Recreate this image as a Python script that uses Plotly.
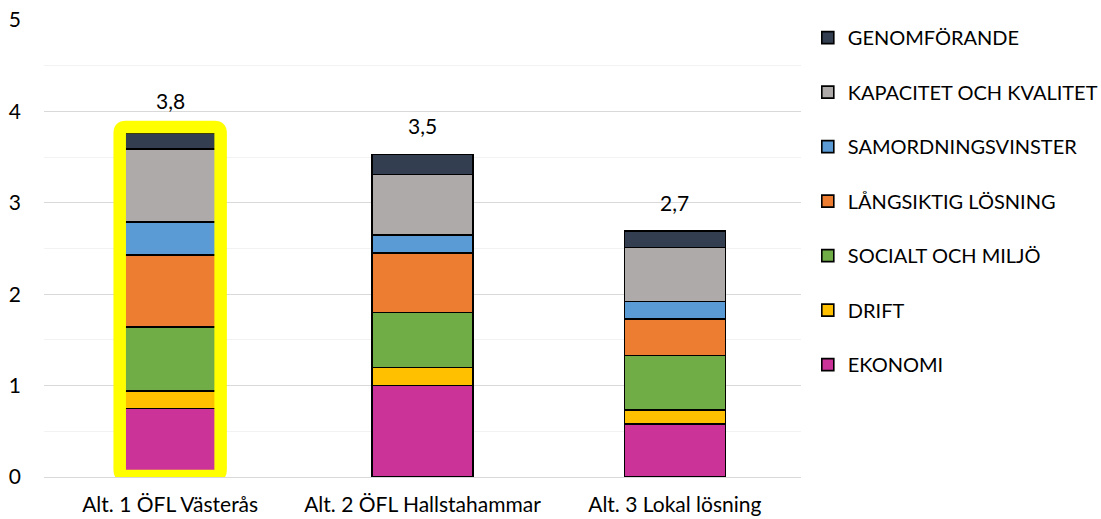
import plotly.graph_objects as go

# Alternatives compared in the evaluation
categories = ["Alt. 1 ÖFL Västerås", "Alt. 2 ÖFL Hallstahammar", "Alt. 3 Lokal lösning"]

# Weighted scores per criterion (stacked bottom to top)
ekonomi = [0.75, 1.00, 0.58]
drift = [0.19, 0.20, 0.15]
socialt_miljo = [0.70, 0.60, 0.60]
langsiktig = [0.79, 0.65, 0.40]
samordning = [0.36, 0.20, 0.19]
kapacitet = [0.80, 0.66, 0.59]
genomforande = [0.17, 0.22, 0.18]

series_names = ["EKONOMI", "DRIFT", "SOCIALT OCH MILJÖ", "LÅNGSIKTIG LÖSNING",
                "SAMORDNINGSVINSTER", "KAPACITET OCH KVALITET", "GENOMFÖRANDE"]
series_values = [ekonomi, drift, socialt_miljo, langsiktig, samordning, kapacitet, genomforande]
series_colors = ["#CC3399", "#FFC000", "#70AD47", "#ED7D31", "#5B9BD5", "#AEAAAA", "#333F50"]

FONT = "Lato"
AX_SIZE = 21
LEG_SIZE = 20
BAR_W = 0.4
xpos = list(range(len(categories)))

fig = go.Figure()
n = len(series_names)
for i, (name, vals, col) in enumerate(zip(series_names, series_values, series_colors)):
    fig.add_trace(go.Bar(
        x=xpos, y=vals, name=name, width=BAR_W,
        marker=dict(color=col, line=dict(color="#000000", width=1.6)),
        legendgroup=name, legendrank=n - i,
    ))

totals = [sum(v) for v in zip(*series_values)]

# Highlight frame around the recommended alternative
hi = 0
fx0, fx1 = hi - BAR_W / 2, hi + BAR_W / 2
fy0, fy1 = 0.01, totals[hi] + 0.07
rx, ry = 0.024, 0.066
frame_path = (
    f"M {fx0 + rx},{fy0} L {fx1 - rx},{fy0} Q {fx1},{fy0} {fx1},{fy0 + ry} "
    f"L {fx1},{fy1 - ry} Q {fx1},{fy1} {fx1 - rx},{fy1} "
    f"L {fx0 + rx},{fy1} Q {fx0},{fy1} {fx0},{fy1 - ry} "
    f"L {fx0},{fy0 + ry} Q {fx0},{fy0} {fx0 + rx},{fy0} Z"
)
fig.add_shape(type="path", path=frame_path, xref="x", yref="y",
              line=dict(color="#FFFF00", width=12.5), layer="above")

# Total labels above each stack
for i, t in enumerate(totals):
    top = fy1 if i == hi else t
    fig.add_annotation(x=xpos[i], y=top, text=f"{t:.1f}".replace(".", ","),
                       showarrow=False, yanchor="bottom", yshift=14 if i != hi else 12,
                       font=dict(family=FONT, size=AX_SIZE, color="#000000"))

fig.update_layout(
    barmode="stack",
    width=1101, height=519,
    margin=dict(l=44, r=300, t=20, b=42, autoexpand=False),
    plot_bgcolor="#FFFFFF", paper_bgcolor="#FFFFFF",
    font=dict(family=FONT, size=AX_SIZE, color="#000000"),
    legend=dict(
        traceorder="grouped", tracegroupgap=25.5,
        x=1.009, xanchor="left", y=1.004, yanchor="top",
        maxheight=519,
        font=dict(family=FONT, size=LEG_SIZE, color="#000000"),
        itemclick=False, itemdoubleclick=False,
    ),
    xaxis=dict(
        range=[-0.5, 2.5], tickvals=xpos, ticktext=categories,
        showgrid=False, zeroline=False, showline=False, ticks="",
        ticklabelstandoff=13, automargin=False,
    ),
    yaxis=dict(
        range=[0, 5.0001], dtick=1, showgrid=True, gridcolor="#D9D9D9", gridwidth=1,
        zeroline=True, zerolinecolor="#D9D9D9", zerolinewidth=1,
        minor=dict(dtick=0.5, showgrid=True, gridcolor="#F2F2F2", gridwidth=1),
        showline=False, ticks="", ticklabelstandoff=22, automargin=False,
    ),
)

fig.write_html("out.html")
